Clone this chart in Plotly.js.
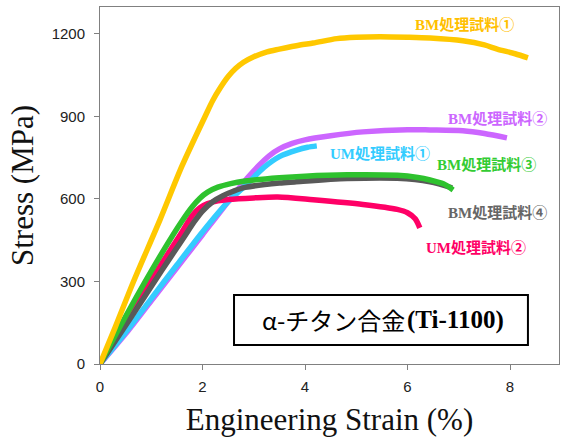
<!DOCTYPE html>
<html>
<head>
<meta charset="utf-8">
<script src="https://cdn.plot.ly/plotly-3.0.1.min.js"></script>
<style>html,body{margin:0;padding:0;background:#fff;}</style>
</head>
<body>
<div id="chart" style="width:568px;height:442px;"></div>
<script>
// Series data: strain (%) and stress (MPa)
var bm1Strain = [0, 0.3, 0.65, 1.17, 1.6, 2.05, 2.2, 2.35, 2.5, 2.65, 2.8, 2.99, 3.26, 3.5, 3.9, 4.16, 4.62, 5.0, 5.46, 6.0, 6.44, 7.08, 7.5, 7.75, 8.1, 8.35];
var bm1Stress = [0, 135, 298, 524, 720, 900, 958, 1005, 1045, 1075, 1097, 1116, 1135, 1145, 1160, 1167, 1183, 1188, 1190, 1188, 1185, 1175, 1160, 1145, 1128, 1113];

var bm2Strain = [0, 0.5, 1.0, 1.5, 2.0, 2.5, 2.87, 3.1, 3.3, 3.5, 3.75, 4.0, 4.5, 5.13, 6.0, 6.44, 7.08, 7.5, 7.94];
var bm2Stress = [0, 110, 230, 350, 470, 590, 675, 722, 757, 782, 802, 815, 830, 844, 852, 851, 848, 838, 822];

var um1Strain = [0, 0.5, 1.0, 1.5, 2.0, 2.5, 2.9, 3.2, 3.51, 3.84, 4.05, 4.23];
var um1Stress = [0, 115, 238, 360, 480, 590, 660, 715, 755, 778, 788, 793];

var bm3Strain = [0, 0.55, 1.21, 1.6, 1.8, 1.95, 2.1, 2.3, 2.55, 2.83, 3.5, 4.0, 4.82, 5.8, 6.2, 6.44, 6.7, 6.89];
var bm3Stress = [0, 190, 404, 520, 572, 603, 625, 643, 656, 665, 677, 683, 688, 686, 678, 669, 655, 633];

var bm4Strain = [0, 0.6, 1.21, 1.6, 1.85, 2.0, 2.2, 2.4, 2.6, 2.83, 3.5, 3.8, 4.82, 5.8, 6.44, 6.87];
var bm4Stress = [0, 168, 342, 450, 520, 556, 590, 612, 628, 642, 658, 662, 674, 675, 662, 640];

var um2Strain = [0, 0.6, 1.21, 1.6, 1.8, 1.95, 2.1, 2.3, 2.5, 3.0, 3.47, 4.16, 5.13, 5.8, 6.0, 6.15, 6.24];
var um2Stress = [0, 180, 367, 480, 540, 568, 583, 593, 598, 604, 607, 597, 580, 562, 550, 528, 495];

var seriesLabels = ["BM処理試料①", "BM処理試料②", "UM処理試料①", "BM処理試料③", "BM処理試料④", "UM処理試料②"];
var xTicks = [0, 2, 4, 6, 8];
var yTicks = [0, 300, 600, 900, 1200];
var xTitle = "Engineering Strain (%)";
var yTitle = "Stress (MPa)";
var boxTextJa = "α-チタン合金";
var boxTextEn = "(Ti-1100)";

var colors = {
  bm1: "#FFC800", bm2: "#CC66FF", um1: "#33CCFF",
  bm3: "#2EC22E", bm4: "#595959", um2: "#FF0066"
};

function line(x, y, c, w) {
  return {x: x, y: y, type: "scatter", mode: "lines",
          line: {color: c, width: w, shape: "spline", smoothing: 0.8},
          hoverinfo: "skip", showlegend: false};
}

var traces = [
  line(bm2Strain, bm2Stress, colors.bm2, 5.5),
  line(um1Strain, um1Stress, colors.um1, 5.5),
  line(um2Strain, um2Stress, colors.um2, 5.5),
  line(bm4Strain, bm4Stress, colors.bm4, 5.5),
  line(bm3Strain, bm3Stress, colors.bm3, 5.5),
  line(bm1Strain, bm1Stress, colors.bm1, 5.5)
];

var labelFont = "Liberation Serif, Noto Sans CJK JP, serif";
function lab(t, x, y, c) {
  return {text: "<b>" + t + "</b>", x: x, y: y, xref: "x", yref: "y", showarrow: false,
          font: {family: labelFont, size: 15, color: c}, xanchor: "center", yanchor: "middle"};
}

var annotations = [
  lab(seriesLabels[0], 7.12, 1233, "#FFC000"),
  lab(seriesLabels[1], 7.76, 894, "#CC66FF"),
  lab(seriesLabels[2], 5.46, 767, "#33CCFF"),
  lab(seriesLabels[3], 7.54, 724, "#33CC33"),
  lab(seriesLabels[4], 7.76, 551, "#666666"),
  lab(seriesLabels[5], 7.33, 422, "#FF0066"),
  {text: boxTextJa, x: 5.99, y: 160, xref: "x", yref: "y", showarrow: false,
   font: {family: "Noto Sans CJK JP, sans-serif", size: 24, color: "#000"},
   xanchor: "right", yanchor: "middle"},
  {text: "<b>" + boxTextEn + "</b>", x: 5.96, y: 160, xref: "x", yref: "y", showarrow: false,
   font: {family: "Liberation Serif, serif", size: 25, color: "#000"},
   xanchor: "left", yanchor: "middle"}
];

var shapes = [
  {type: "rect", xref: "x", yref: "y", x0: 2.615, x1: 8.35, y0: 69, y1: 251,
   line: {color: "#000", width: 2}, fillcolor: "rgba(255,255,255,0)"}
];

var axisCommon = {
  showline: true, linecolor: "#808080", linewidth: 1, mirror: true,
  showgrid: false, zeroline: false, ticks: "outside", ticklen: 5, tickcolor: "#808080",
  tickfont: {family: "Liberation Sans, Arial, sans-serif", size: 15, color: "#222"}
};

var layout = {
  width: 568, height: 442,
  margin: {l: 100, r: 9, t: 7, b: 78},
  paper_bgcolor: "#fff", plot_bgcolor: "#fff",
  xaxis: Object.assign({}, axisCommon, {
    range: [0, 8.956], tickvals: xTicks, ticktext: xTicks.map(String), ticklabelstandoff: 4,
    title: {text: xTitle, font: {family: "Liberation Serif, serif", size: 31, color: "#111"}, standoff: 14}
  }),
  yaxis: Object.assign({}, axisCommon, {
    range: [0, 1298], tickvals: yTicks, ticktext: yTicks.map(String), ticklabelstandoff: 6,
    title: {text: yTitle, font: {family: "Liberation Serif, serif", size: 31, color: "#111"}, standoff: 8}
  }),
  shapes: shapes,
  annotations: annotations
};

Plotly.newPlot("chart", traces, layout, {staticPlot: true, displayModeBar: false});
</script>
</body>
</html>
